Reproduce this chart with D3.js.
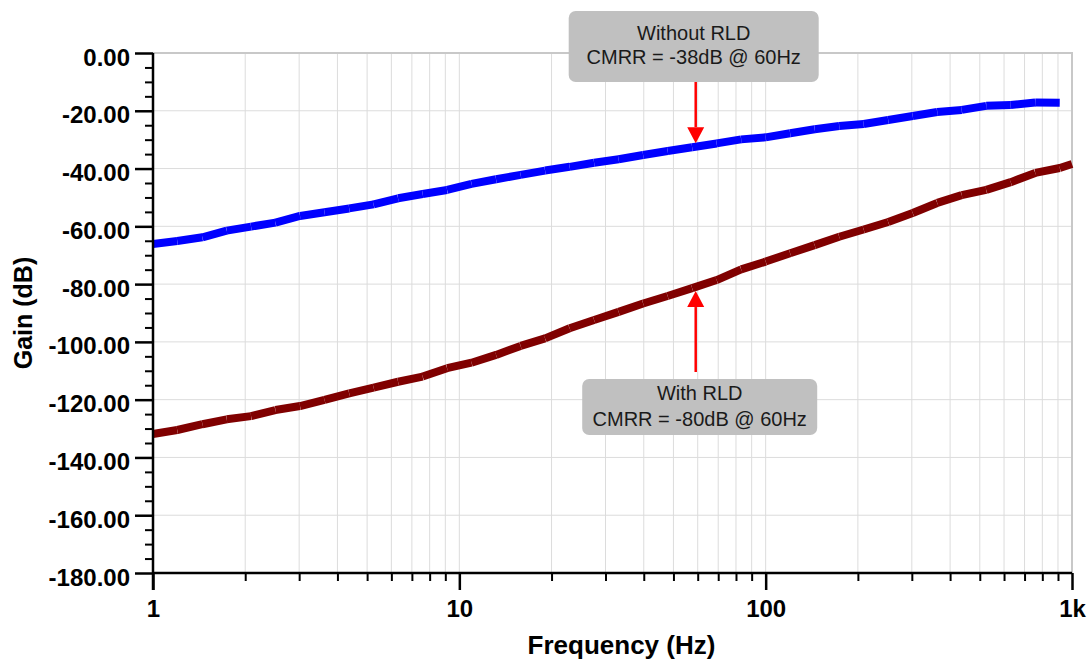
<!DOCTYPE html>
<html>
<head>
<meta charset="utf-8">
<script src="https://cdn.jsdelivr.net/npm/d3@7"></script>
<style>
  body { margin: 0; background: #fff; }
  svg { display: block; font-family: "Liberation Sans", Arial, sans-serif; }
</style>
</head>
<body>
<div id="vis"></div>
<script>
// frequency points (Hz)
const freqs = [1, 1.2, 1.45, 1.74, 2.09, 2.51, 3.02, 3.63, 4.37, 5.25, 6.31, 7.59, 9.12,
  10.96, 13.18, 15.85, 19.05, 22.91, 27.54, 33.11, 39.81, 47.86, 57.54, 69.18, 83.18,
  100, 120.2, 144.5, 173.8, 208.9, 251.2, 302, 363.1, 436.5, 524.8, 631, 758.6, 912, 1000]

// gain (dB), without right-leg drive
const withoutRld = [-66.1, -65.1, -63.8, -61.5, -60.1, -58.7, -56.4, -55.1, -53.8, -52.4,
  -50.3, -48.8, -47.4, -45.3, -43.7, -42.2, -40.7, -39.4, -38.0, -36.8, -35.3, -33.9,
  -32.6, -31.3, -29.9, -29.2, -27.8, -26.4, -25.3, -24.6, -23.2, -21.8, -20.4, -19.7,
  -18.3, -18.0, -17.1, -17.2]

// gain (dB), with right-leg drive
const withRld = [-131.9, -130.5, -128.5, -126.8, -125.7, -123.6, -122.2, -120.1, -117.8,
  -115.8, -113.8, -112.0, -109.1, -107.2, -104.5, -101.4, -98.8, -95.3, -92.4, -89.6,
  -86.7, -84.1, -81.4, -78.6, -74.9, -72.2, -69.3, -66.5, -63.6, -61.1, -58.5, -55.4,
  -51.9, -49.2, -47.4, -44.7, -41.5, -39.8, -38.4]

const yTicks = [0, -20, -40, -60, -80, -100, -120, -140, -160, -180]
const xTicks = [1, 10, 100, 1000]
const xTickLabels = ['1', '10', '100', '1k']

// annotation: text lines, freq the arrow points at, gain at arrow tip
const notes = [
  {lines: ['Without RLD', 'CMRR = -38dB @ 60Hz'], freq: 60, tip: -31.2, side: 'above'},
  {lines: ['With RLD', 'CMRR = -80dB @ 60Hz'], freq: 60, tip: -82.4, side: 'below'}
]

const W = 1091, H = 665
const margin = {left: 153, top: 53, right: 19, bottom: 92}
const width = W - margin.left - margin.right
const height = H - margin.top - margin.bottom

const svg = d3.select('#vis').append('svg')
  .attr('width', W)
  .attr('height', H)

const x = d3.scaleLog([1, 1000], [margin.left, margin.left + width])
const y = d3.scaleLinear([-180, 0], [margin.top + height, margin.top])

// minor values
const xMinor = []
for (let dec = 1; dec < 1000; dec *= 10)
  for (let m = 2; m <= 9; m++) xMinor.push(dec * m)
const yMinor = d3.range(-180, 0.1, 5).filter(v => v % 20 !== 0)

// grid
const grid = svg.append('g').attr('stroke', '#dcdcdc').attr('stroke-width', 1)
grid.selectAll('.vg')
  .data(xMinor.concat([10, 100]))
  .join('line')
    .attr('x1', d => x(d)).attr('x2', d => x(d))
    .attr('y1', margin.top).attr('y2', margin.top + height)
grid.selectAll('.hg')
  .data(yTicks.filter(d => d > -180 && d < 0))
  .join('line')
    .attr('x1', margin.left).attr('x2', margin.left + width)
    .attr('y1', d => y(d)).attr('y2', d => y(d))

// frame top / right
svg.append('path')
  .attr('d', `M${margin.left},${margin.top}H${margin.left + width}V${margin.top + height}`)
  .attr('fill', 'none')
  .attr('stroke', '#c8c8c8')
  .attr('stroke-width', 2)

// traces, drawn as separate segments so the joints show
const series = [
  {values: withoutRld, color: '#0000ff'},
  {values: withRld, color: '#800000'}
]
const line = d3.line().x(d => x(d[0])).y(d => y(d[1]))
series.forEach(s => {
  const pts = s.values.map((v, i) => [freqs[i], v])
  svg.append('g')
    .selectAll('path')
    .data(d3.pairs(pts))
    .join('path')
      .attr('d', line)
      .attr('fill', 'none')
      .attr('stroke', s.color)
      .attr('stroke-width', 8)
      .attr('stroke-linecap', 'butt')
})

// axes
const tickFont = g => g.selectAll('text')
  .attr('font-size', 24)
  .attr('font-weight', 'bold')
  .attr('fill', '#000')
  .attr('font-family', '"Liberation Sans", Arial, sans-serif')

const yAxis = svg.append('g')
  .attr('transform', `translate(${margin.left},0)`)
  .call(d3.axisLeft(y).tickValues(yTicks).tickSize(18).tickPadding(5).tickFormat(d => d.toFixed(2)))
  .call(tickFont)
yAxis.select('.domain').remove()
yAxis.selectAll('.tick line').attr('stroke-width', 2.5)
yAxis.selectAll('.tick text').attr('dy', '0.5em')

svg.append('g')
  .attr('transform', `translate(${margin.left},0)`)
  .call(d3.axisLeft(y).tickValues(yMinor).tickSize(8).tickFormat(''))
  .call(g => g.select('.domain').remove())
  .selectAll('.tick line').attr('stroke-width', 2)

const xAxis = svg.append('g')
  .attr('transform', `translate(0,${margin.top + height})`)
  .call(d3.axisBottom(x).tickValues(xTicks).tickSize(17).tickPadding(10)
    .tickFormat((d, i) => xTickLabels[i]))
  .call(tickFont)
xAxis.select('.domain').remove()
xAxis.selectAll('.tick line').attr('stroke-width', 2.5)

svg.append('g')
  .attr('transform', `translate(0,${margin.top + height})`)
  .call(d3.axisBottom(x).tickValues(xMinor).tickSize(8).tickFormat(''))
  .call(g => g.select('.domain').remove())
  .selectAll('.tick line').attr('stroke-width', 2)

// axis lines
svg.append('line')
  .attr('x1', margin.left).attr('x2', margin.left + width)
  .attr('y1', margin.top + height).attr('y2', margin.top + height)
  .attr('stroke', '#000').attr('stroke-width', 2.5)
svg.append('line')
  .attr('x1', margin.left).attr('x2', margin.left)
  .attr('y1', margin.top).attr('y2', margin.top + height + 17)
  .attr('stroke', '#000').attr('stroke-width', 2.5)

// titles
svg.append('text')
  .attr('x', x(Math.sqrt(1000)) + 9)
  .attr('y', 654)
  .attr('text-anchor', 'middle')
  .attr('font-size', 26)
  .attr('font-weight', 'bold')
  .text('Frequency (Hz)')

svg.append('text')
  .attr('transform', `translate(32,${y(-90)}) rotate(-90)`)
  .attr('text-anchor', 'middle')
  .attr('font-size', 25)
  .attr('font-weight', 'bold')
  .text('Gain (dB)')

// annotations
notes.forEach(n => {
  const ax = x(n.freq) - 2
  const tipY = y(n.tip)
  const g = svg.append('g')
  let boxTop, boxH, boxW, boxCx, tailY, lineY
  if (n.side === 'above') {
    boxW = 250; boxH = 71; boxCx = ax - 2; boxTop = 11
    tailY = boxTop + boxH
    lineY = [boxTop + 22, boxTop + 46]
  } else {
    boxW = 235; boxH = 56; boxCx = ax + 4; boxTop = 379
    tailY = boxTop - 7
    lineY = [boxTop + 14, boxTop + 40]
  }
  const dir = n.side === 'above' ? 1 : -1
  const headLen = 16
  g.append('line')
    .attr('x1', ax).attr('x2', ax)
    .attr('y1', tailY).attr('y2', tipY - dir * headLen)
    .attr('stroke', '#ff0000').attr('stroke-width', 2.5)
  g.append('path')
    .attr('d', `M${ax},${tipY}L${ax - 8.5},${tipY - dir * headLen}L${ax + 8.5},${tipY - dir * headLen}Z`)
    .attr('fill', '#ff0000')
  g.append('rect')
    .attr('x', boxCx - boxW / 2).attr('y', boxTop)
    .attr('width', boxW).attr('height', boxH)
    .attr('rx', 7)
    .attr('fill', '#c0c0c0')
  g.selectAll('text')
    .data(n.lines)
    .join('text')
      .attr('x', boxCx)
      .attr('y', (d, i) => lineY[i])
      .attr('dy', '0.35em')
      .attr('text-anchor', 'middle')
      .attr('font-size', 20)
      .attr('fill', '#1a1a1a')
      .text(d => d)
})
</script>
</body>
</html>
